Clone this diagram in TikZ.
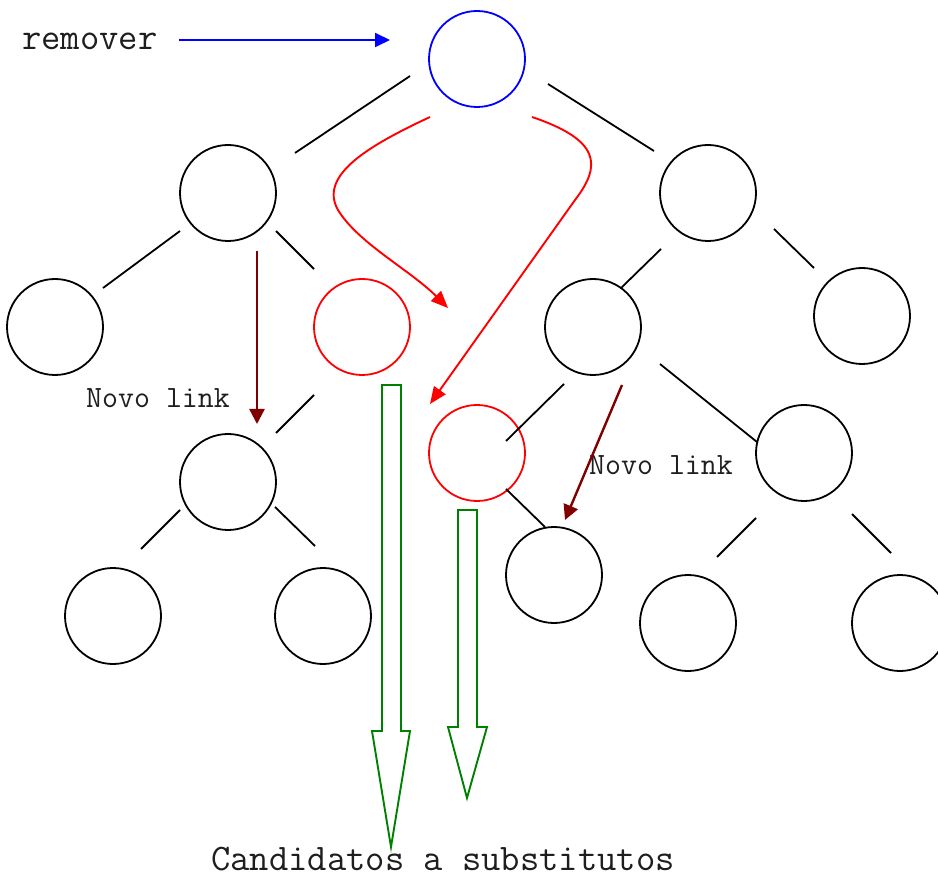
\documentclass[tikz,border=0pt]{standalone}
\usetikzlibrary{arrows.meta}
\definecolor{pblue}{RGB}{0,0,255}
\definecolor{pred}{RGB}{255,0,0}
\definecolor{pdarkred}{RGB}{128,0,0}
\definecolor{pgreen}{RGB}{0,128,0}
\definecolor{ptext}{RGB}{30,30,30}
\begin{document}
\begin{tikzpicture}[x=1pt,y=-1pt,
  nd/.style={circle,draw,line width=1.8pt,minimum size=96pt,inner sep=0pt},
  link/.style={line width=1.8pt,black},
  newlink/.style={line width=2.4pt,pdarkred,-{Triangle[length=15pt,width=15pt]}},
  moveto/.style={line width=1.9pt,pred,-{Triangle[length=17pt,width=14pt]}},
  hollow/.style={line width=1.9pt,pgreen,line join=miter},
  lbl/.style={inner sep=0pt,anchor=base west,text=ptext,font=\ttfamily\fontsize{31}{34}\selectfont},
  biglbl/.style={inner sep=0pt,anchor=base west,text=ptext,font=\ttfamily\fontsize{37.5}{40}\selectfont}]
\useasboundingbox (0,0) rectangle (938,877);

% tree nodes
\node[nd,draw=pblue] (root) at (477,59) {};
\node[nd] (a) at (228,193) {};
\node[nd] (b) at (708,193) {};
\node[nd] (aa) at (55,327) {};
\node[nd,draw=pred] (ab) at (362,327) {};
\node[nd] (ba) at (593,327) {};
\node[nd] (bb) at (862,316) {};
\node[nd] (aba) at (228,482) {};
\node[nd,draw=pred] (baa) at (477,453) {};
\node[nd] (bab) at (804,453) {};
\node[nd] (abaa) at (113,616) {};
\node[nd] (abab) at (323,616) {};
\node[nd] (baab) at (554,575) {};
\node[nd] (baba) at (688,623) {};
\node[nd] (babb) at (900,623) {};

% labels
\node[biglbl] (rem) at (22,50) {remover};
\node[lbl] (lblA) at (86,408) {Novo link};
\node[lbl] (lblB) at (589,475) {Novo link};
\node[biglbl] (cand) at (211,870) {Candidatos a substitutos};

% edge end points
\coordinate (e1s) at (410,76);  \coordinate (e1t) at (295,153);
\coordinate (e2s) at (548,84);  \coordinate (e2t) at (654,151);
\coordinate (e3s) at (180,231); \coordinate (e3t) at (103,288);
\coordinate (e4s) at (276,231); \coordinate (e4t) at (314,269);
\coordinate (e5s) at (661,249); \coordinate (e5t) at (621,288);
\coordinate (e6s) at (774,229); \coordinate (e6t) at (814,268);
\coordinate (e7s) at (314,395); \coordinate (e7t) at (276,433);
\coordinate (e8s) at (564,384); \coordinate (e8t) at (506,441);
\coordinate (e9s) at (660,364); \coordinate (e9t) at (757,442);
\coordinate (e10s) at (180,510); \coordinate (e10t) at (141,549);
\coordinate (e11s) at (275,507); \coordinate (e11t) at (315,546);
\coordinate (e12s) at (506,489); \coordinate (e12t) at (545,527);
\coordinate (e13s) at (756,518); \coordinate (e13t) at (717,557);
\coordinate (e14s) at (852,514); \coordinate (e14t) at (891,553);
\foreach \i in {1,...,14} \draw[link] (e\i s) -- (e\i t);

% pointer to the node being removed
\coordinate (remS) at (179,40);
\coordinate (remT) at (390,40);
\draw[line width=1.9pt,pblue,-{Triangle[length=15pt,width=14pt]}] (remS) -- (remT);

% new links
\coordinate (nl1s) at (257,251); \coordinate (nl1t) at (257,424);
\coordinate (nl2s) at (622,385); \coordinate (nl2t) at (565,520);
\draw[newlink] (nl1s) -- (nl1t);
\draw[newlink] (nl2s) -- (nl2t);

% red moves from the removed node
\coordinate (m1s) at (430,117); \coordinate (m1t) at (448,308);
\coordinate (m2s) at (532,117); \coordinate (m2t) at (430,404);
\draw[moveto] (m1s) .. controls (370,145) and (318,175) .. (338,210)
  .. controls (358,243) and (410,270) .. (m1t);
\draw[moveto] (m2s) .. controls (600,140) and (602,165) .. (575,200) -- (m2t);

% hollow arrows towards the candidates label
\draw[hollow] (382,385) -- (401,385) -- (401,731) -- (410,731) -- (391,847)
  -- (372,731) -- (382,731) -- cycle;
\draw[hollow] (458,510) -- (477,510) -- (477,727) -- (487,727) -- (467,798)
  -- (448,727) -- (458,727) -- cycle;
\end{tikzpicture}
\end{document}
